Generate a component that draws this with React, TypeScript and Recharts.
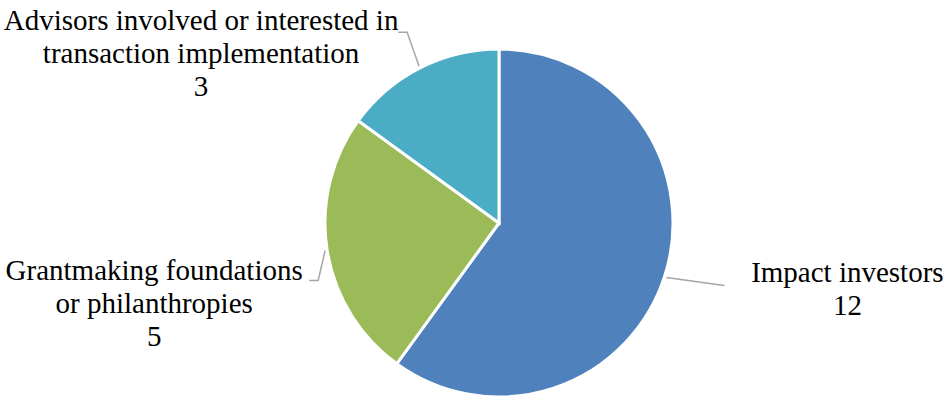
import { PieChart, Pie, Cell } from "recharts";

const categories = [
  "Impact investors",
  "Grantmaking foundations or philanthropies",
  "Advisors involved or interested in transaction implementation",
];
const values = [12, 5, 3];
const labelLines = [
  ["Impact investors"],
  ["Grantmaking foundations", "or philanthropies"],
  ["Advisors involved or interested in", "transaction implementation"],
];
const colors = ["#4F81BD", "#9BBB59", "#4BACC6"];

const data = categories.map((name, i) => ({ name, value: values[i] }));

// where each leader line bends and where its text block sits (relative to the edge point)
const labelLayout = [
  { elbow: [58, 8], end: [58, 8], textX: 181, textY: 5 },
  { elbow: [-7, 30], end: [-16, 30], textX: -171, textY: 29 },
  { elbow: [-12, -34], end: [-21, -34], textX: -218, textY: -36 },
];

const RADIAN = Math.PI / 180;
const FONT = "'Liberation Serif', 'Times New Roman', serif";

const renderLabel = ({ cx, cy, midAngle, outerRadius, index, value }: any) => {
  const r = outerRadius + 2;
  const x0 = cx + r * Math.cos(-midAngle * RADIAN);
  const y0 = cy + r * Math.sin(-midAngle * RADIAN);
  const lay = labelLayout[index];
  const lines = [...labelLines[index], String(value)];
  const lineH = 33;
  return (
    <g>
      <polyline
        points={`${x0},${y0} ${x0 + lay.elbow[0]},${y0 + lay.elbow[1]} ${x0 + lay.end[0]},${y0 + lay.end[1]}`}
        fill="none"
        stroke="#A6A6A6"
        strokeWidth={1.5}
      />
      <text
        x={x0 + lay.textX}
        y={y0 + lay.textY}
        textAnchor="middle"
        style={{ fontFamily: FONT, fontSize: 29 }}
        fill="#000"
      >
        {lines.map((l, i) => (
          <tspan key={i} x={x0 + lay.textX} dy={i === 0 ? 0 : lineH}>
            {l}
          </tspan>
        ))}
      </text>
    </g>
  );
};

const App = () => {
  return (
    <div style={{ position: "absolute", left: 0, top: 0, background: "#fff" }}>
      <PieChart width={943} height={401} margin={{ top: 0, right: 0, bottom: 0, left: 0 }}>
        <Pie
          data={data}
          dataKey="value"
          cx={499}
          cy={223}
          outerRadius={174}
          startAngle={90}
          endAngle={-270}
          label={renderLabel}
          labelLine={false}
          isAnimationActive={false}
          stroke="#fff"
          strokeWidth={3}
        >
          {data.map((entry, i) => (
            <Cell key={`cell-${i}-${entry.name}`} fill={colors[i]} />
          ))}
        </Pie>
      </PieChart>
    </div>
  );
};

export default App;
